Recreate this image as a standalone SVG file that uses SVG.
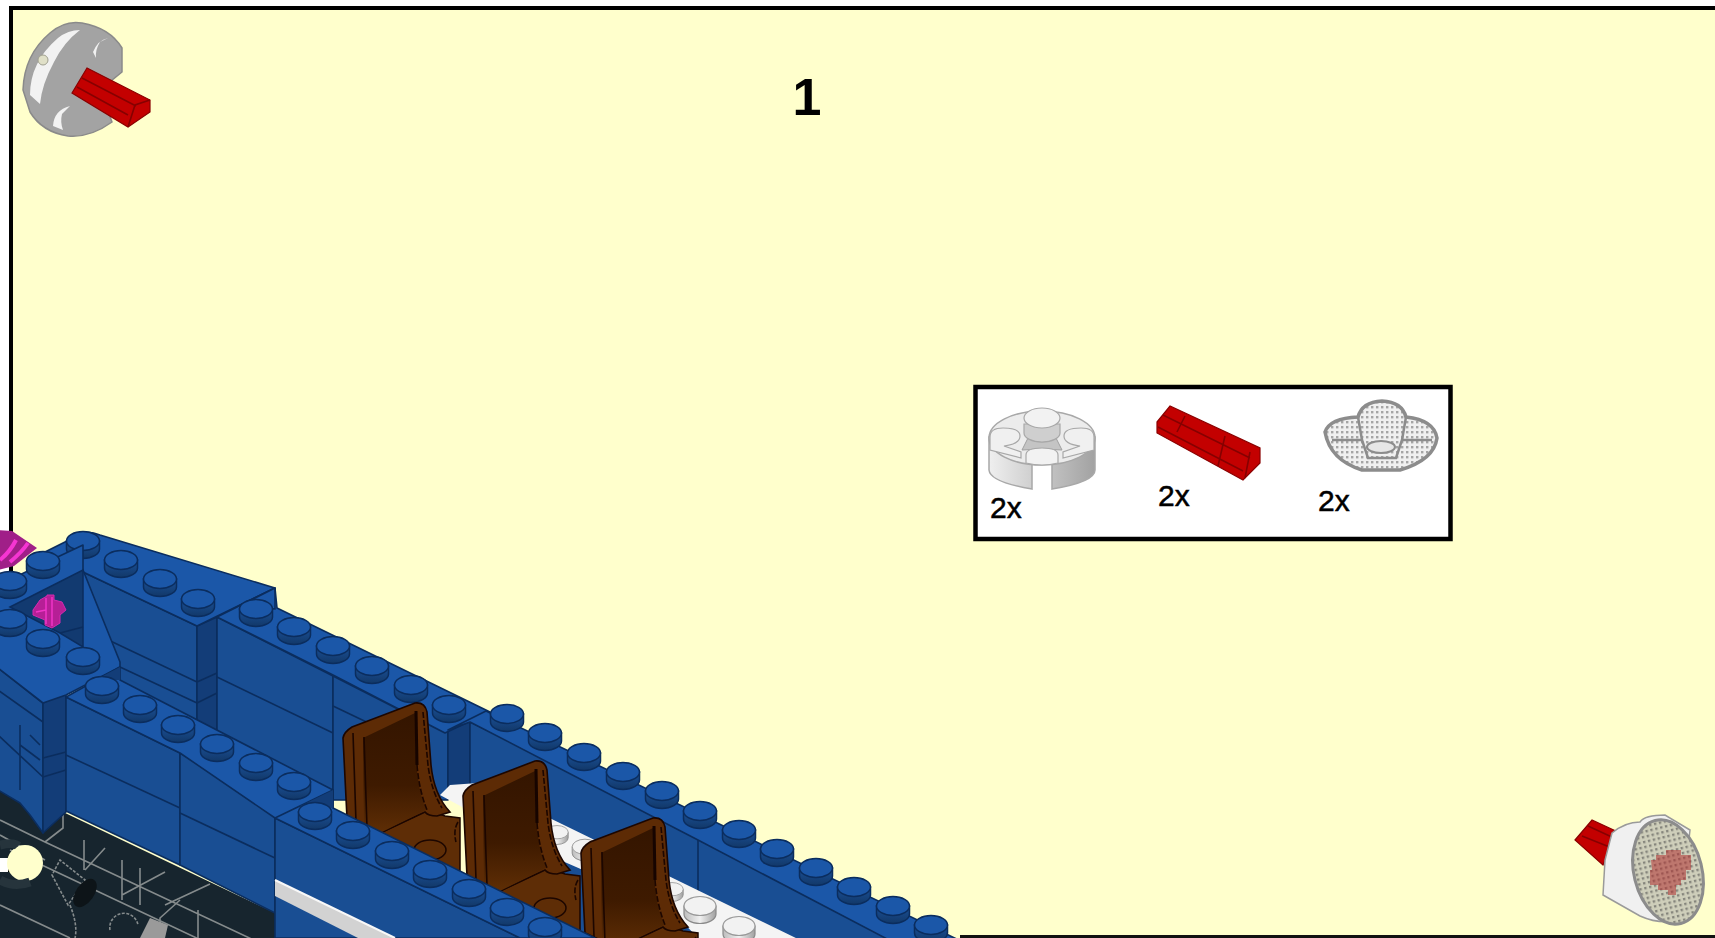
<svg xmlns="http://www.w3.org/2000/svg" xmlns:xlink="http://www.w3.org/1999/xlink" width="1715" height="938" viewBox="0 0 1715 938">
<style>
.top{fill:#1b57a8;stroke:#0b2d5e;stroke-width:1.6;stroke-linejoin:round}
.side{fill:#194e93;stroke:#0b2d5e;stroke-width:1.6;stroke-linejoin:round}
.dark{fill:#133d78;stroke:#0b2d5e;stroke-width:1.6;stroke-linejoin:round}
.seam{fill:none;stroke:#0b2d5e;stroke-width:1.6}
.tech{fill:none;stroke:#858b8c;stroke-width:1.6}
.lbl{font-family:"Liberation Sans",Arial,sans-serif;fill:#000;font-size:30px;stroke:#000;stroke-width:.5}
.ax{fill:#c30000;stroke:#8a0000;stroke-width:1.2}
.axl{fill:none;stroke:#860000;stroke-width:1.6}
.br{fill:none;stroke:#1c0600;stroke-width:1.6}
.brd{fill:none;stroke:#1c0600;stroke-width:1.6;stroke-dasharray:6 2}
</style>
<defs>
<linearGradient id="gB" x1="0" y1="0" x2="0" y2="1"><stop offset="0" stop-color="#1a5098"/><stop offset="1" stop-color="#123868"/></linearGradient>
<linearGradient id="gBr" x1="0" y1="0" x2="0" y2="1"><stop offset="0" stop-color="#341500"/><stop offset=".6" stop-color="#3e1a00"/><stop offset="1" stop-color="#5f2e05"/></linearGradient>
<linearGradient id="gW" x1="0" y1="0" x2="1" y2="0"><stop offset="0" stop-color="#bdbdbd"/><stop offset=".5" stop-color="#f0f0f0"/><stop offset="1" stop-color="#a0a0a0"/></linearGradient>
<linearGradient id="gP" x1="0" y1="0" x2="1" y2="0"><stop offset="0" stop-color="#efefef"/><stop offset=".5" stop-color="#c8c8c8"/><stop offset="1" stop-color="#a2a2a2"/></linearGradient>
<pattern id="dots" width="5" height="5" patternUnits="userSpaceOnUse"><rect width="5" height="5" fill="#ceceba"/><rect x="1" y="1" width="2.4" height="2.4" fill="#85857c"/></pattern>
<pattern id="dotsW" width="5" height="5" patternUnits="userSpaceOnUse"><rect width="5" height="5" fill="#f0f0f0"/><rect x="1" y="1" width="2.4" height="2.4" fill="#a5a5a5"/></pattern>
<g id="stud"><path d="M-16.5,-4v8a16.5,9.5 0 0 0 33,0v-8z" fill="url(#gB)" stroke="#0b2d5e" stroke-width="1.5"/><ellipse cy="-4" rx="16.5" ry="9.5" fill="#1b57a8" stroke="#0b2d5e" stroke-width="1.5"/></g>
<g id="studW"><path d="M-16,-4v8a16,9.5 0 0 0 32,0v-8z" fill="url(#gW)" stroke="#8a8a8a" stroke-width="1.2"/><ellipse cy="-4" rx="16" ry="9.5" fill="#f2f2f2" stroke="#9a9a9a" stroke-width="1.2"/></g>
<g id="seat">
<path d="M380,833L428,810L445,816L460,818L460,882L430,880Z" fill="#5e2d06" stroke="#1c0600" stroke-width="1.5"/>
<path d="M343,738Q344,732 352,727L415,703Q425,702 427,712L431,765Q434,795 450,812L437,816Q428,816 425,812L380,833L347,818Z" fill="#5d2b05" stroke="#1c0600" stroke-width="1.6"/>
<path d="M363,738L415,713L416,760Q418,790 426,810L380,833L364,826Z" fill="url(#gBr)"/>
<path class="br" d="M353,733L356,822M364,737L367,828"/>
<path d="M416,711L417,765" fill="none" stroke="#160400" stroke-width="3"/>
<path class="brd" d="M423,712L428,765Q431,790 442,808M417,765Q419,790 427,810"/>
<ellipse cx="430" cy="850" rx="16" ry="10" fill="#5e2d06" stroke="#1c0600" stroke-width="1.5"/>
<path class="brd" d="M458,822Q453,830 456,842"/>
</g>
</defs>

<rect width="1715" height="938" fill="#fff"/>
<g id="page">
<rect x="9" y="6" width="1706" height="932" fill="#ffffcc"/>
<path d="M11,938V8H1715" fill="none" stroke="#000" stroke-width="4"/>
<path d="M960,936.500H1715" fill="none" stroke="#111" stroke-width="3"/>
</g>

<text id="step-number" x="807" y="115" text-anchor="middle" style="font-family:'Liberation Sans',Arial,sans-serif;font-size:52px;font-weight:bold;fill:#000">1</text>

<g id="callout-top-left">
<path d="M23,90Q24,55 50,33Q65,20 82,23Q110,28 122,48L122,72L100,90L112,122Q90,138 68,136Q42,132 30,112Z" fill="#a3a3a3" stroke="#8a8a8a" stroke-width="1.5"/>
<path d="M30,95Q30,62 58,38Q68,30 80,30Q64,42 54,62Q42,84 40,104Z" fill="#f2f2f2"/>
<path d="M93,52Q98,40 108,38L100,42Q95,50 96,58Z" fill="#f2f2f2"/>
<path d="M53,126Q54,110 70,106L62,114Q60,122 63,130Z" fill="#f2f2f2"/>
<circle cx="43" cy="60" r="5" fill="#e0e0c8" stroke="#a0a090"/>
<path class="ax" d="M72,93L87,68L150,100L150,112L128,127Z"/>
<path class="axl" d="M82,78L136,106M77,87L128,115M128,127L135,105L150,100"/>
</g>

<g id="callout-bottom-right">
<path class="ax" d="M1575,840L1592,820L1618,832L1603,865Z" fill="#b00000"/>
<path class="axl" d="M1582,836L1612,848M1588,826L1614,838"/>
<path d="M1612,833Q1625,822 1640,822Q1645,815 1665,815L1690,830L1680,920Q1660,925 1640,916L1603,895L1605,860Z" fill="#f0f0f0" stroke="#9a9a9a" stroke-width="1.5"/>
<ellipse cx="1668" cy="872" rx="34" ry="53" transform="rotate(-14 1668 872)" fill="url(#dots)" stroke="#8c8c8c" stroke-width="3"/>
<path d="M1651,860h5v-5h10v-5h15v5h10v15h-5v10h-5v5h-5v10h-8v-5h-10v-5h-8v-15h2z" fill="#b03030" opacity=".55"/>
</g>

<g id="parts-list">
<rect x="975.500" y="387" width="475" height="152" fill="#fff" stroke="#000" stroke-width="4.500"/>
<g id="part-plate">
<path d="M989,437V470Q990,482 1032,489V463H1052V489Q1095,482 1095,470V437Z" fill="url(#gP)" stroke="#a8a8a8" stroke-width="1.5"/>
<ellipse cx="1042" cy="438" rx="53" ry="27" fill="#ececec" stroke="#a8a8a8" stroke-width="1.5"/>
<path d="M1028,438Q1042,446 1056,438L1062,450Q1042,448 1022,450Z" fill="#c4c4c4" stroke="#a0a0a0"/>
<path d="M1024,424v9a18,9 0 0 0 36,0v-9z" fill="#cfcfcf" stroke="#a8a8a8" stroke-width="1.2"/>
<ellipse cx="1042" cy="418" rx="18" ry="10" fill="#f2f2f2" stroke="#a8a8a8" stroke-width="1.2"/>
<path d="M990,437Q990,428 1003,428Q1020,428 1020,436Q1020,444 1004,446L1021,452V458L990,450Z" fill="#f0f0f0" stroke="#a8a8a8" stroke-width="1.2"/>
<path d="M1094,437Q1094,428 1081,428Q1064,428 1064,436Q1064,444 1080,446L1063,452V458L1094,450Z" fill="#f0f0f0" stroke="#a8a8a8" stroke-width="1.2"/>
<path d="M1026,455Q1026,448 1042,448Q1058,448 1058,455V463Q1042,467 1026,463Z" fill="#f2f2f2" stroke="#a8a8a8" stroke-width="1.2"/>
</g>
<text class="lbl" x="990" y="518">2x</text>
<g id="part-axle">
<path class="ax" d="M1157,422L1170,406L1260,448V463L1243,480L1157,433Z"/>
<path class="axl" d="M1163,415L1250,458M1158,427L1243,471M1185,416L1177,432M1225,436L1218,466M1250,452L1245,478"/>
</g>
<text class="lbl" x="1158" y="506">2x</text>
<g id="part-plate-under">
<path d="M1325,432Q1330,418 1358,417Q1362,402 1382,401Q1402,402 1406,417Q1434,420 1437,438Q1434,460 1400,470H1362Q1330,460 1325,432Z" fill="url(#dotsW)" stroke="#8c8c8c" stroke-width="3.500"/>
<path d="M1358,417L1362,440L1332,440M1406,417L1402,440L1432,440M1362,440L1368,458H1396L1402,440" fill="none" stroke="#8c8c8c" stroke-width="2.500"/>
<ellipse cx="1381" cy="447" rx="14" ry="6" fill="#e6e6e6" stroke="#8c8c8c" stroke-width="2"/>
</g>
<text class="lbl" x="1318" y="511">2x</text>
</g>

<g id="model">
<g id="base">
<path d="M0,780L63,812L275,913V938H0Z" fill="#17252e"/>
<path class="tech" d="M0,820L45,842L275,950M10,850L275,975M0,905L70,938M63,812V828L45,842M84,840V870M140,868V905M122,860V900M198,910V938M85,870L105,848M122,895L165,872M165,905L210,884M160,938V918L180,900M0,835L45,860"/>
<path class="tech" d="M52,875L68,905L85,880L60,860Z M70,905Q78,925 75,938M110,930A14,14 0 0 1 138,925" stroke-dasharray="3 1.500"/>
<ellipse cx="85" cy="893" rx="9" ry="16" transform="rotate(35 85 893)" fill="#0d1418"/>
<path d="M140,938L150,918L168,925L165,938Z" fill="#9a9a9a"/>
<path d="M0,858H10V872H0Z" fill="#fff"/>
<path d="M10,855V872" stroke="#000" stroke-width="4"/>
<circle cx="25" cy="863" r="18" fill="#ffffcc"/>
<path d="M0,845Q14,842 18,846M0,880Q14,888 30,882" fill="none" stroke="#26343c" stroke-width="9"/>
</g>

<g id="back-wall">
<path class="side" d="M83,572L197,626V735L83,680Z"/>
<path class="seam" d="M83,628L197,682M120,667L197,703"/>
<path class="dark" d="M197,626L217,617V735L197,735Z"/>
<path class="seam" d="M197,682L217,673M197,703L217,693"/>
<path class="side" d="M217,617L333,675V800L217,745Z"/>
<path class="seam" d="M217,677L333,733"/>
<path class="side" d="M333,675L448,730V800L333,800Z"/>
<path class="seam" d="M333,706L400,738"/>
<path class="side" d="M448,730H470V790H448Z"/>
<path class="dark" d="M448,730L470,720V790H448Z"/>
<path class="side" d="M470,722L1000,975V1000H470Z"/>
<path class="seam" d="M698,840V893"/>
<path class="top" d="M83,533Q90,531 100,535L275,588L197,626L83,572L45,552Z"/>
<path class="dark" d="M239,606L275,588V609Z" stroke="none"/>
<path class="top" d="M217,617L275,588L277,608L490,712L445,733ZM445,733L333,675L217,617"/>
<path class="top" d="M448,730L486,711L1000,960L975,985L698,840L470,722Z"/>
<path d="M275,588V609L240,606" fill="none" stroke="#0b2d5e" stroke-width="1.5"/>
</g>

<g id="back-studs">
<use href="#stud" x="83" y="545"/><use href="#stud" x="121" y="564"/><use href="#stud" x="160" y="583"/><use href="#stud" x="198" y="603"/>
<use href="#stud" x="256" y="613"/><use href="#stud" x="294" y="631"/><use href="#stud" x="333" y="650"/><use href="#stud" x="372" y="670"/><use href="#stud" x="411" y="689"/><use href="#stud" x="449" y="709"/>
<use href="#stud" x="507" y="718"/><use href="#stud" x="545" y="737"/><use href="#stud" x="584" y="757"/><use href="#stud" x="623" y="776"/><use href="#stud" x="662" y="795"/><use href="#stud" x="700" y="815"/><use href="#stud" x="739" y="834"/><use href="#stud" x="777" y="853"/><use href="#stud" x="816" y="872"/><use href="#stud" x="854" y="891"/><use href="#stud" x="893" y="910"/><use href="#stud" x="931" y="929"/>
</g>

<g id="white-plate">
<path d="M440,795L450,785L478,783L800,940H700L668,907L560,860Z" fill="#f4f4f4"/>
<use href="#studW" x="557" y="835" transform="translate(557 835) scale(.7) translate(-557 -835)"/>
<use href="#studW" x="672" y="892" transform="translate(672 892) scale(.7) translate(-672 -892)"/>
<use href="#studW" x="585" y="850" transform="translate(585 850) scale(.8) translate(-585 -850)"/>
<use href="#studW" x="700" y="910"/><use href="#studW" x="739" y="930"/>
</g>

<g id="seats">
<use href="#seat"/>
<use href="#seat" transform="translate(120 58)"/>
<use href="#seat" transform="translate(238 115)"/>
</g>

<g id="left-block">
<path class="side" d="M-2,668L43,703V833L30,815L20,803L-2,790Z"/>
<path class="seam" d="M-2,690L43,722M-2,735L43,777M20,725V790M20,745L40,760M30,735L40,745"/>
<path class="dark" d="M43,703L66,692V812L43,833Z"/>
<path class="seam" d="M43,758L66,752M43,777L66,770"/>
<path class="top" d="M-2,585L83,545L83,570L120,662V667L66,695L43,703L-2,668Z"/>
<path d="M10,607L83,570V647L60,633Z" fill="#123a70" stroke="#0b2d5e" stroke-width="1.500"/>
<path class="seam" d="M60,633L83,627"/>
<path id="connector-pin" d="M40,600L47,596V595H54V600L62,602L66,610L60,615V623L52,628L45,625V620L33,615V610Z" fill="#b61f96" stroke="#d42bb0" stroke-width="1"/>
<path d="M46,598V624M52,597V626M36,612L46,610" fill="none" stroke="#f035c8" stroke-width="1.500"/>
<path d="M-2,530L12,531L37,548L14,566L-2,570Z" fill="#a01f88"/>
<path d="M10,562Q22,552 28,543M0,560Q10,552 16,540" fill="none" stroke="#f535d2" stroke-width="4"/>
<use href="#stud" x="43" y="565"/><use href="#stud" x="10" y="585"/><use href="#stud" x="10" y="623"/><use href="#stud" x="43" y="643"/><use href="#stud" x="83" y="661"/>
</g>

<g id="middle-wall">
<path class="side" d="M66,697L180,753V865L66,811Z"/>
<path class="seam" d="M66,755L180,808"/>
<path class="side" d="M180,753L275,808V913L180,865Z"/>
<path class="seam" d="M180,813L275,858"/>
<path class="top" d="M66,697L120,667L120,680L333,790L333,808L275,818L180,753Z"/>
<path d="M95,680L120,667V680Z" fill="#133d78"/>
<path d="M300,806L333,790V808Z" fill="#133d78"/>
<use href="#stud" x="102" y="690"/><use href="#stud" x="140" y="709"/><use href="#stud" x="178" y="729"/><use href="#stud" x="217" y="748"/><use href="#stud" x="256" y="767"/><use href="#stud" x="294" y="786"/>
</g>

<g id="front-wall">
<path class="side" d="M275,818L520,938H275Z"/>
<path d="M275,880L395,938H358L275,896Z" fill="#d2d2d2"/>
<path d="M275,880L395,938" fill="none" stroke="#f8f8f8" stroke-width="2"/>
<path class="top" d="M275,818L333,790L333,808L595,938H520Z"/>
<path d="M300,806L333,790V808Z" fill="#133d78"/>
<use href="#stud" x="315" y="816"/><use href="#stud" x="353" y="835"/><use href="#stud" x="392" y="855"/><use href="#stud" x="430" y="874"/><use href="#stud" x="469" y="893"/><use href="#stud" x="507" y="912"/><use href="#stud" x="545" y="931"/>
</g>
</g>
</svg>
